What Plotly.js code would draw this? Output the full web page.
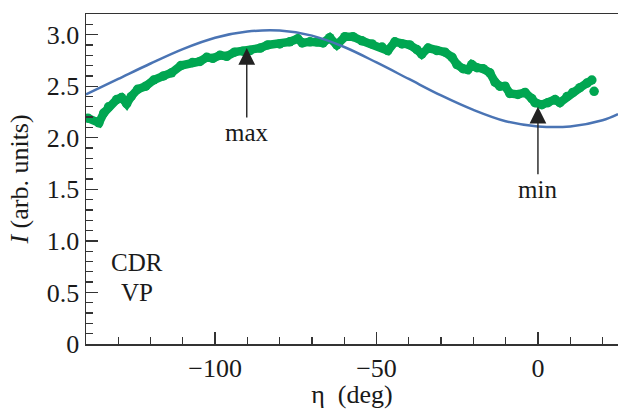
<!DOCTYPE html>
<html>
<head>
<meta charset="utf-8">
<script src="https://cdn.plot.ly/plotly-3.0.1.min.js"></script>
<style>html,body{margin:0;padding:0;background:#fff;}#chart{width:618px;height:409px;}</style>
</head>
<body>
<div id="chart"></div>
<script>
// Measured data (green dots), eta in degrees, I in arb. units
const greenEta = [-139.4,-136,-134.5,-133,-130.5,-129,-127.4,-126,-124,-121.5,-119,-116,-113.5,-110.6,-107,-104.7,-102.6,-100.7,-98.5,-96.4,-94,-91.4,-89.2,-86,-83.7,-80,-76.9,-74.4,-73,-70.6,-68.5,-66.6,-64.5,-62.3,-59.8,-57.3,-54.5,-51.4,-48.3,-46.5,-44.3,-42.1,-39.7,-37.5,-36,-34,-31.3,-28.8,-26.6,-25.1,-23.2,-21.7,-20.5,-18.9,-17,-14.9,-13.3,-11.8,-10.2,-8.7,-6.2,-4,-1.9,-0.9,1.2,3.1,5.3,6.8,9,10.8,13,15.2,16.7,17.4];
const greenI   = [2.19,2.145,2.24,2.30,2.37,2.39,2.33,2.40,2.47,2.50,2.56,2.60,2.63,2.70,2.73,2.74,2.78,2.77,2.80,2.79,2.83,2.84,2.845,2.87,2.90,2.91,2.93,2.96,2.92,2.93,2.93,2.92,2.97,2.90,2.98,2.98,2.94,2.91,2.88,2.845,2.93,2.91,2.90,2.855,2.81,2.87,2.845,2.83,2.78,2.71,2.67,2.66,2.71,2.68,2.67,2.63,2.54,2.50,2.50,2.43,2.42,2.44,2.38,2.34,2.32,2.34,2.37,2.34,2.40,2.44,2.485,2.53,2.56,2.45];
// Calculated curve (blue line)
const blueEta = [-140,-130,-120,-110,-100,-90,-80,-70,-60,-50,-40,-30,-20,-10,0,10,20,24.8];
const blueI   = [2.42,2.57,2.72,2.86,2.97,3.03,3.04,2.99,2.88,2.73,2.57,2.41,2.27,2.16,2.11,2.11,2.17,2.23];
// Axis ticks
const yTickVals = [0,0.5,1.0,1.5,2.0,2.5,3.0];
const yTickText = ['0','0.5','1.0','1.5','2.0','2.5','3.0'];
const xTickVals = [-100,-50,0];
const xTickText = ['\u2212100','\u221250','0'];

const nMain = greenEta.length - 1;
const GREEN = '#00a651';
const BLUE = '#4a74b4';
const FONT = 'Liberation Serif, Times New Roman, serif';
const AX = '#333333';
const TXT = '#1a1a1a';

const traces = [
  {x: greenEta.slice(0,nMain), y: greenI.slice(0,nMain), type:'scatter', mode:'lines+markers',
   line:{color:GREEN, width:8.5}, marker:{color:GREEN, size:9.5}, hoverinfo:'skip'},
  {x: greenEta.slice(nMain), y: greenI.slice(nMain), type:'scatter', mode:'markers',
   marker:{color:GREEN, size:9.5}, hoverinfo:'skip'},
  {x: blueEta, y: blueI, type:'scatter', mode:'lines', line:{color:BLUE, width:2.5, shape:'spline'}, hoverinfo:'skip'}
];

const layout = {
  width:618, height:409,
  margin:{l:86, r:0, t:14, b:65},
  paper_bgcolor:'#fff', plot_bgcolor:'#fff',
  showlegend:false,
  font:{family:FONT, color:TXT},
  xaxis:{range:[-140,24.8], tickmode:'array', tickvals:xTickVals, ticktext:xTickText,
    ticks:'inside', ticklen:12, tickwidth:1.3, tickcolor:AX,
    minor:{tickmode:'linear', tick0:0, dtick:10, ticks:'inside', ticklen:7, tickwidth:1.3, tickcolor:AX},
    showline:true, linecolor:AX, linewidth:1.5, mirror:true, showgrid:false, zeroline:false,
    tickfont:{family:FONT, size:26, color:TXT},
    title:{text:'\u03b7\u00a0 (deg)', font:{family:FONT, size:26, color:TXT}, standoff:4}},
  yaxis:{range:[0,3.2], tickmode:'array', tickvals:yTickVals, ticktext:yTickText,
    ticks:'inside', ticklen:12, tickwidth:1.3, tickcolor:AX,
    minor:{tickmode:'linear', tick0:0, dtick:0.1, ticks:'inside', ticklen:7, tickwidth:1.3, tickcolor:AX},
    showline:true, linecolor:AX, linewidth:1.5, mirror:false, showgrid:false, zeroline:false,
    tickfont:{family:FONT, size:26, color:TXT},
    title:{text:'<i>I</i>\u00a0(arb. units)', font:{family:FONT, size:26, color:TXT}, standoff:10}},
  annotations:[
    {x:-90.2, y:2.87, ax:-90.2, ay:2.05, xref:'x', yref:'y', axref:'x', ayref:'y',
     text:'max', showarrow:true, arrowhead:2, arrowsize:2.4, arrowwidth:1.4, arrowcolor:'#222',
     font:{family:FONT, size:25, color:TXT}},
    {x:0, y:2.30, ax:0, ay:1.50, xref:'x', yref:'y', axref:'x', ayref:'y',
     text:'min', showarrow:true, arrowhead:2, arrowsize:2.4, arrowwidth:1.4, arrowcolor:'#222',
     font:{family:FONT, size:25, color:TXT}},
    {x:-124.3, y:0.79, xref:'x', yref:'y', text:'CDR', showarrow:false,
     font:{family:FONT, size:25, color:TXT}},
    {x:-124.3, y:0.50, xref:'x', yref:'y', text:'VP', showarrow:false,
     font:{family:FONT, size:25, color:TXT}}
  ]
};

Plotly.newPlot('chart', traces, layout, {staticPlot:true, displayModeBar:false});
</script>
</body>
</html>
